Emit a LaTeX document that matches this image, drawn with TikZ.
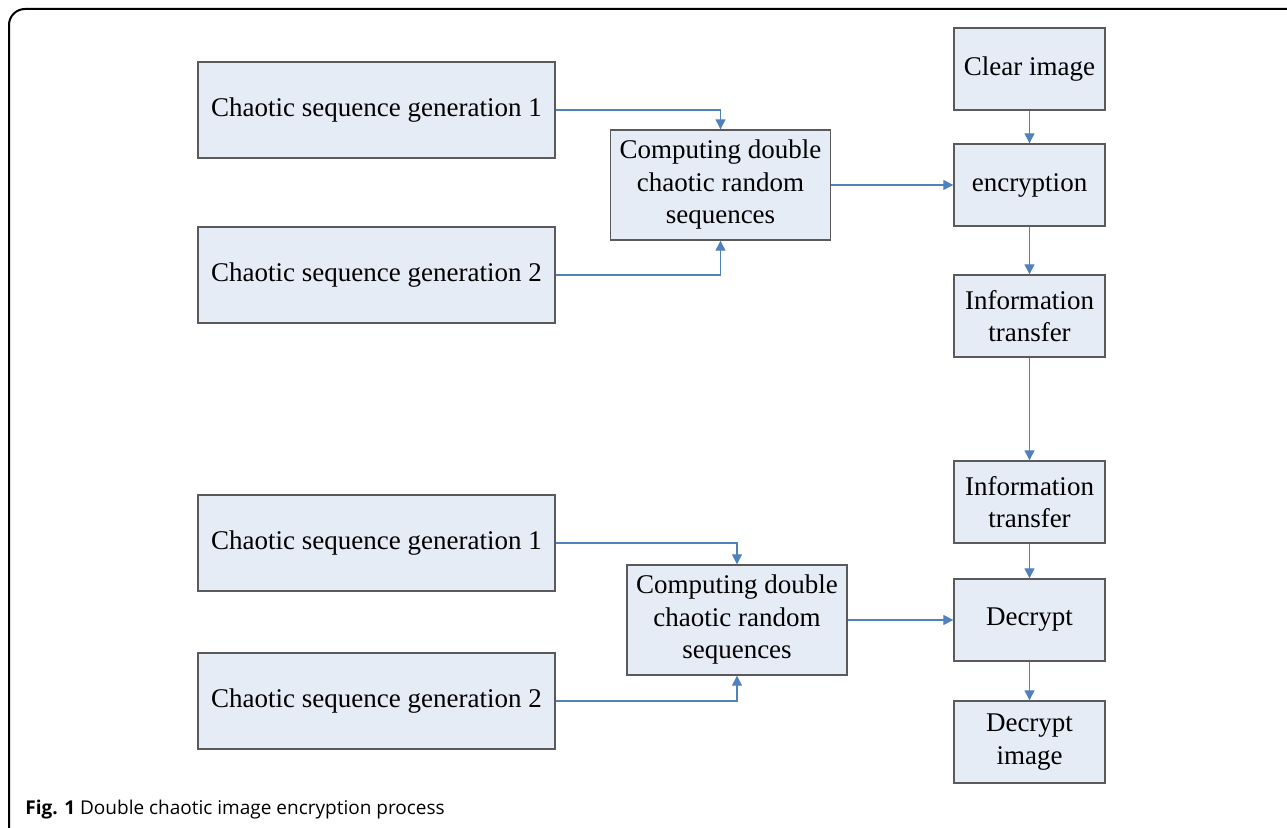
\documentclass[tikz,border=0pt]{standalone}
\usepackage{fontspec}
\setmainfont{Liberation Serif}
\newfontfamily\capfont{Open Sans}
\usetikzlibrary{arrows.meta}
\definecolor{boxfill}{RGB}{230,236,246}
\definecolor{boxline}{RGB}{90,90,90}
\definecolor{flowblue}{RGB}{79,129,189}
\begin{document}
\begin{tikzpicture}[x=0.5pt,y=-0.5pt,
    box/.style={draw=boxline,line width=0.7pt,fill=boxfill,inner sep=0pt,align=center,
        font=\fontsize{13.5}{16.25}\selectfont},
    genbox/.style={box,minimum width=178.5pt,minimum height=48pt},
    compbox/.style={box,minimum width=110pt,minimum height=55pt},
    stepbox/.style={box,minimum width=75.5pt,minimum height=41pt},
    flow/.style={draw=flowblue,line width=0.65pt,-{Triangle[length=5pt,width=5pt]}}]
    \clip (0,0) rectangle (1287,828);
    %% frame
    \draw[line width=1pt,rounded corners=8pt] (9,9) rectangle (1320,845);
    %% encryption side
    \node[genbox] (gen1) at (376.5,110) {Chaotic sequence generation 1};
    \node[genbox] (gen2) at (376.5,275) {Chaotic sequence generation 2};
    \node[compbox] (comp) at (720.5,185) {Computing double\\chaotic random\\sequences};
    \node[stepbox] (clear) at (1029.5,69) {Clear image};
    \node[stepbox] (enc) at (1029.5,185) {encryption};
    \node[stepbox] (sendA) at (1029.5,316) {Information\\transfer};
    %% decryption side
    \node[stepbox] (sendB) at (1029.5,502) {Information\\transfer};
    \node[stepbox] (dec) at (1029.5,620) {Decrypt};
    \node[stepbox] (decimg) at (1029.5,742) {Decrypt\\image};
    \node[genbox] (gen3) at (376.5,543) {Chaotic sequence generation 1};
    \node[genbox] (gen4) at (376.5,701) {Chaotic sequence generation 2};
    \node[compbox] (compB) at (737,620) {Computing double\\chaotic random\\sequences};
    %% connectors
    \draw[flow] (gen1.east) -| (comp.north);
    \draw[flow] (gen2.east) -| (comp.south);
    \draw[flow] (comp.east) -- (enc.west);
    \draw[flow] (clear) -- (enc);
    \draw[flow] (enc) -- (sendA);
    \draw[flow] (sendA) -- (sendB);
    \draw[flow] (sendB) -- (dec);
    \draw[flow] (dec) -- (decimg);
    \draw[flow] (gen3.east) -| (compB.north);
    \draw[flow] (gen4.east) -| (compB.south);
    \draw[flow] (compB.east) -- (dec.west);
    %% caption
    \node[anchor=base west,inner sep=0pt,font=\capfont\fontsize{9.5}{11}\selectfont] (cap) at (25,815)
        {\textbf{Fig. 1} Double chaotic image encryption process};
\end{tikzpicture}
\end{document}
